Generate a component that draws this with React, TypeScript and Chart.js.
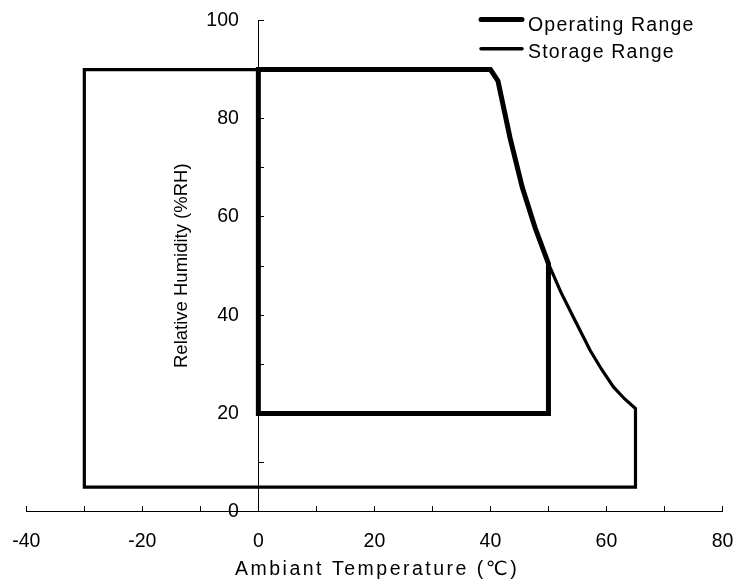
import { useEffect, useRef } from 'react';
import { Chart, registerables } from 'chart.js';

Chart.register(...registerables);

// ---- data ----
const operatingTemp = [0, 0, 40, 41.3, 43.4, 45.5, 47.7, 50, 50, 0];
const operatingRH = [20, 90, 90, 87.7, 76, 66, 57.8, 50.5, 20, 20];
const storageTemp = [-30, -30, 40, 41.3, 43.4, 45.5, 47.7, 50, 52.1, 54.3, 57.2, 59.2, 61.2, 63.1, 65, 65, -30];
const storageRH = [5, 90, 90, 87.7, 76, 66, 57.8, 50.5, 44.8, 39.6, 32.8, 28.9, 25.4, 23, 21, 5, 5];
const seriesNames = ['Operating Range', 'Storage Range'];
const xTickLabels = [-40, -20, 0, 20, 40, 60, 80];
const yTickLabels = [0, 20, 40, 60, 80, 100];
const xTitle = 'Ambiant Temperature (℃)';
const yTitle = 'Relative Humidity (%RH)';

const FONT = '"Liberation Sans", Arial, "DejaVu Sans", sans-serif';

const decorPlugin = {
  id: 'decor',
  afterDraw(chart: any) {
    const ctx: CanvasRenderingContext2D = chart.ctx;
    ctx.save();
    // legend
    const legendRows = [
      { y: 19.5, textY: 31, width: 5 },
      { y: 48.7, textY: 57.5, width: 3.5 },
    ];
    seriesNames.forEach((name, i) => {
      const row = legendRows[i];
      ctx.strokeStyle = '#000';
      ctx.lineWidth = row.width;
      ctx.lineCap = 'round';
      ctx.beginPath();
      ctx.moveTo(481, row.y);
      ctx.lineTo(522, row.y);
      ctx.stroke();
      ctx.fillStyle = '#000';
      ctx.font = `19.5px ${FONT}`;
      (ctx as any).letterSpacing = '1.2px';
      ctx.textAlign = 'left';
      ctx.textBaseline = 'alphabetic';
      ctx.fillText(name, 528, row.textY);
    });
    // x axis title
    ctx.font = `19.5px ${FONT}`;
    (ctx as any).letterSpacing = '2.5px';
    ctx.textAlign = 'left';
    ctx.textBaseline = 'alphabetic';
    ctx.fillText(xTitle, 235, 575.3);
    (ctx as any).letterSpacing = '0px';
    // y axis title
    ctx.translate(186.5, 368);
    ctx.rotate(-Math.PI / 2);
    ctx.font = `18.5px ${FONT}`;
    ctx.textAlign = 'left';
    ctx.textBaseline = 'alphabetic';
    ctx.fillText(yTitle, 0, 0);
    ctx.restore();
  },
};

const zeroPadding = (s: any) => {
  s.paddingLeft = 0;
  s.paddingRight = 0;
  s.paddingTop = 0;
  s.paddingBottom = 0;
};

export default function App() {
  const canvasRef = useRef<HTMLCanvasElement | null>(null);

  useEffect(() => {
    const canvas = canvasRef.current;
    if (!canvas) return;
    const tickFont = { family: FONT, size: 19.5 };
    const chart = new Chart(canvas, {
      type: 'scatter',
      data: {
        datasets: [
          {
            label: seriesNames[0],
            data: operatingTemp.map((t, i) => ({ x: t, y: operatingRH[i] })),
            showLine: true,
            borderColor: '#000',
            backgroundColor: '#000',
            borderWidth: 5,
            borderCapStyle: 'square',
            borderJoinStyle: 'miter',
            pointRadius: 0,
            pointHoverRadius: 0,
            tension: 0,
            fill: false,
          },
          {
            label: seriesNames[1],
            data: storageTemp.map((t, i) => ({ x: t, y: storageRH[i] })),
            showLine: true,
            borderColor: '#000',
            backgroundColor: '#000',
            borderWidth: 3.2,
            borderCapStyle: 'square',
            borderJoinStyle: 'miter',
            pointRadius: 0,
            pointHoverRadius: 0,
            tension: 0,
            fill: false,
          },
        ],
      },
      options: {
        responsive: false,
        animation: false,
        events: [],
        layout: { padding: { left: 26.3, right: 13.5, top: 20.5, bottom: 70.3 } },
        plugins: {
          legend: { display: false },
          tooltip: { enabled: false },
          title: { display: false },
        },
        scales: {
          x: {
            type: 'linear',
            min: -40,
            max: 80,
            position: { y: 0 } as any,
            afterFit: (s: any) => {
              s.height = 0;
              zeroPadding(s);
            },
            ticks: {
              stepSize: 10,
              autoSkip: false,
              maxRotation: 0,
              color: '#000',
              font: tickFont,
              padding: 24,
              callback: (v: any) => (xTickLabels.includes(Number(v)) ? String(v) : ''),
            },
            grid: { drawOnChartArea: false, drawTicks: true, tickLength: -6, color: '#000', lineWidth: 1 },
            border: { display: true, color: '#000', width: 1 },
          },
          y: {
            type: 'linear',
            min: 0,
            max: 100,
            position: { x: 0 } as any,
            afterFit: (s: any) => {
              s.width = 0;
              zeroPadding(s);
            },
            ticks: {
              stepSize: 10,
              autoSkip: false,
              color: '#000',
              font: tickFont,
              padding: 24,
              // trailing em space keeps the label clear of the axis line
              callback: (v: any) => (yTickLabels.includes(Number(v)) ? String(v) + '\u2003' : ''),
            },
            grid: { drawOnChartArea: false, drawTicks: true, tickLength: -6, color: '#000', lineWidth: 1 },
            border: { display: true, color: '#000', width: 1 },
          },
        },
      } as any,
      plugins: [decorPlugin],
    });
    return () => chart.destroy();
  }, []);

  return (
    <div style={{ position: 'fixed', left: 0, top: 0, width: 736, height: 582, background: '#fff' }}>
      <canvas ref={canvasRef} width={736} height={582} style={{ width: 736, height: 582, display: 'block' }} />
    </div>
  );
}
